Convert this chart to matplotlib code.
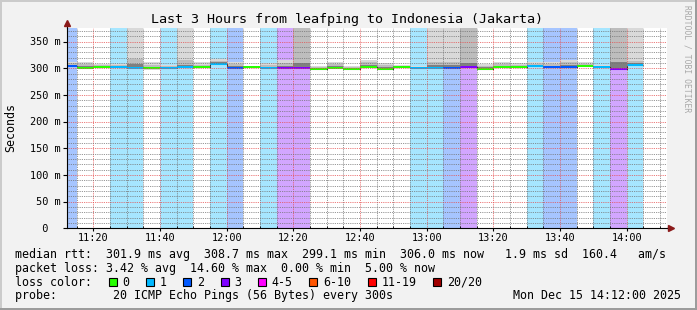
import matplotlib
matplotlib.use("Agg")
import matplotlib.pyplot as plt
import matplotlib.dates as mdates
import matplotlib.transforms as mtrans
from matplotlib.ticker import MultipleLocator
from matplotlib.patches import Rectangle
from matplotlib.colors import to_rgb
import pandas as pd

# ---------------- data ----------------
title = "Last 3 Hours from leafping to Indonesia (Jakarta)"
first_interval = "2025-12-15 11:10"
window_start = "2025-12-15 11:12"
window_end = "2025-12-15 14:12"
step = "5min"

# lost pings (of 20) per 5-minute interval
loss = [2, 0, 0, 1, 1, 0, 1, 1, 0, 1, 2, 0, 1, 3, 3, 0, 0, 0, 0, 0, 0,
        1, 1, 2, 3, 0, 0, 0, 1, 2, 2, 0, 1, 3, 1]
# median rtt (ms)
median = [304.4, 300.8, 302.5, 302.0, 300.8, 300.2, 301.5, 302.0, 302.5, 308.5,
          300.6, 302.5, 300.6, 300.2, 300.2, 299.1, 300.6, 299.3, 302.5, 299.6,
          302.0, 300.8, 300.8, 300.2, 303.0, 299.2, 302.0, 302.5, 303.5, 302.5,
          302.0, 304.0, 302.0, 299.6, 306.0]
# smoke: lowest ping, outer / second / inner upper pings (ms)
smoke_lo = [302.5, 299.5, 300.5, 300.5, 299.5, 296, 300, 300.5, 301, 306.5,
            299, 301, 299, 299, 299, 298, 299, 298, 301, 298,
            300.5, 299.5, 299.5, 299, 301.5, 298, 300.5, 301, 302, 301,
            300.5, 302.5, 300.5, 298.5, 304.5]
smoke_hi1 = [311, 311, 309, 308, 420, 311, 307, 420, 311, 317.5,
             312, 305, 309, 315, 420, 304, 311, 304, 316, 310,
             307, 305, 420, 420, 420, 309, 311, 310, 312, 311,
             316, 312, 307, 420, 420]
smoke_hi2 = [309, 308, 306, 306, 318, 306, 305, 316, 307, 313,
             308, 304, 306, 310, 420, 302, 308, 302, 311, 306,
             305, 303, 312, 312, 420, 305, 308, 307, 309, 308,
             311, 309, 305, 420, 314]
smoke_hi3 = [307, 304, 304, 304, 308, 303, 303, 307, 304, 311,
             304, 303, 303, 305, 310, 300.5, 304, 300.5, 306, 302,
             303, 302, 307, 306, 310, 302, 305, 305, 306, 305,
             306, 306, 303.5, 312, 310]

loss_labels = ["0", "1", "2", "3", "4-5", "6-10", "11-19", "20/20"]
loss_upper = [0, 1, 2, 3, 5, 10, 19, 20]
loss_colors = ["#26ff00", "#00b8ff", "#0059ff", "#7e00ff", "#ff00ff",
               "#ff5500", "#ff0000", "#a10000"]

y_max = 375
y_major = 50
y_minor = 10

stat_rtt = "median rtt:  301.9 ms avg  308.7 ms max  299.1 ms min  306.0 ms now   1.9 ms sd  160.4   am/s"
stat_loss = "packet loss: 3.42 % avg  14.60 % max  0.00 % min  5.00 % now"
loss_head = "loss color:"
probe_line = "probe:        20 ICMP Echo Pings (56 Bytes) every 300s"
stamp = "Mon Dec 15 14:12:00 2025"
side_text = "RRDTOOL / TOBI OETIKER"

# ---------------- figure ----------------
W, H = 697, 310
BG = "#f2f2f2"
MONO = "DejaVu Sans Mono"
fig = plt.figure(figsize=(W / 100, H / 100), dpi=100, facecolor=BG)

def fx(x):
    return x / W

def fy(y):
    return 1 - y / H

ax_l, ax_t, ax_w, ax_h = 66.8, 28.3, 600, 200
ax = fig.add_axes([fx(ax_l), fy(ax_t + ax_h), ax_w / W, ax_h / H])
ax.set_facecolor("white")

starts = pd.date_range(first_interval, periods=len(median), freq=step)
edges = pd.date_range(first_interval, periods=len(median) + 1, freq=step)
xs = mdates.date2num(starts.to_pydatetime())
xe = mdates.date2num(edges.to_pydatetime())
wid = xe[1] - xe[0]

def loss_color(n):
    for up, c in zip(loss_upper, loss_colors):
        if n <= up:
            return c
    return loss_colors[-1]

def tint(c, a=0.35):
    r, g, b = to_rgb(c)
    return (1 - a + a * r, 1 - a + a * g, 1 - a + a * b)

# loss background
for x0, n in zip(xs, loss):
    if n > 0:
        ax.axvspan(x0, x0 + wid, color=tint(loss_color(n)), lw=0, zorder=0.5)

# smoke
ax.bar(xs, [h - l for h, l in zip(smoke_hi1, smoke_lo)], bottom=smoke_lo,
       width=wid, align="edge", color="#d9d9d9", lw=0, zorder=1)
ax.bar(xs, [h - m for h, m in zip(smoke_hi2, median)], bottom=median,
       width=wid, align="edge", color="#bdbdbd", lw=0, zorder=1.1)
ax.bar(xs, [h - m for h, m in zip(smoke_hi3, median)], bottom=median,
       width=wid, align="edge", color="#7f7f7f", lw=0, zorder=1.2)

# median: dark line + coloured 2px band
ax.stairs(median, xe, baseline=None, color="#202020", lw=0.75, zorder=1.5)
half = y_max / ax_h  # one pixel in data units
ax.bar(xs, [2 * half] * len(median), bottom=[m - half for m in median],
       width=wid, align="edge", color=[loss_color(n) for n in loss], lw=0,
       zorder=1.6)

ax.set_xlim(mdates.date2num(pd.Timestamp(window_start).to_pydatetime()),
            mdates.date2num(pd.Timestamp(window_end).to_pydatetime()))
ax.set_ylim(0, y_max)

ax.xaxis.set_major_locator(mdates.MinuteLocator(byminute=[0, 20, 40]))
ax.xaxis.set_minor_locator(mdates.MinuteLocator(byminute=range(0, 60, 5)))
ax.yaxis.set_major_locator(MultipleLocator(y_major))
ax.yaxis.set_minor_locator(MultipleLocator(y_minor))
ax.set_axisbelow(False)
ax.grid(which="minor", color=(0.45, 0.45, 0.45, 0.35), ls=(0, (1, 1.2)), lw=0.6)
ax.grid(which="major", color=(0.9, 0.3, 0.3, 0.5), ls=(0, (1, 1.2)), lw=0.6)

for s in ("top", "right"):
    ax.spines[s].set_visible(False)
for s in ("left", "bottom"):
    ax.spines[s].set_color("black")
    ax.spines[s].set_linewidth(0.8)
    ax.spines[s].set_zorder(3)

ax.tick_params(axis="x", which="major", direction="out", length=2.2, width=0.8,
               labelbottom=False)
ax.tick_params(axis="x", which="minor", direction="in", length=1.5, width=0.6)
ax.tick_params(axis="y", which="major", direction="out", length=3.2, width=0.8,
               labelleft=False)
ax.tick_params(axis="y", which="minor", length=0)

# arrows
arrow_c = "#8b1a1a"
ax.plot([0, 0], [1, 1 + 4 / ax_h], transform=ax.transAxes, color="black",
        lw=0.8, clip_on=False, zorder=3)
ax.plot([0], [1 + 5 / ax_h], transform=ax.transAxes, marker="^", ms=4.2,
        color=arrow_c, mec=arrow_c, clip_on=False, zorder=4)
ax.plot([1, 1 + 2 / ax_w], [0, 0], transform=ax.transAxes, color="black",
        lw=0.8, clip_on=False, zorder=3)
ax.plot([1 + 4 / ax_w], [0], transform=ax.transAxes, marker=">", ms=4.2,
        color=arrow_c, mec=arrow_c, clip_on=False, zorder=4)

# y tick labels (monospace, padded like rrdtool)
ytr = mtrans.offset_copy(mtrans.blended_transform_factory(fig.transFigure, ax.transData),
                         fig=fig, x=0, y=-3.7, units="dots")
tick_fs = 7.4
for v in range(0, y_max + 1, y_major):
    lab = f"{v:>3d} m" if v else "  0"
    ax.text(fx(29.5), v, lab, transform=ytr, ha="left", va="baseline",
            family=MONO, fontsize=tick_fs, color="black", clip_on=False)

# x tick labels
xtr = mtrans.blended_transform_factory(ax.transData, fig.transFigure)
for t in ax.xaxis.get_majorticklocs():
    if ax.get_xlim()[0] <= t <= ax.get_xlim()[1]:
        ax.text(t, fy(240.7), mdates.num2date(t).strftime("%H:%M"), transform=xtr,
                ha="center", va="baseline", family=MONO, fontsize=tick_fs,
                color="black", clip_on=False)

# y label
fig.text(fx(10.5), fy(127), "Seconds", rotation=90, ha="center", va="center",
         family=MONO, fontsize=8.4, color="black")

# title
fig.text(fx(347.2), fy(23.3), title, ha="center", va="baseline", family=MONO,
         fontsize=9.6, color="black")

# side text
fig.text(fx(687.5), fy(5), side_text, rotation=270, ha="center", va="top",
         family=MONO, fontsize=5.8, color="#a8a8a8")

# legend rows
leg_fs = 8.4
lx = 15.3
fig.text(fx(lx), fy(258.3), stat_rtt, ha="left", va="baseline", family=MONO, fontsize=leg_fs)
fig.text(fx(lx), fy(272.0), stat_loss, ha="left", va="baseline", family=MONO, fontsize=leg_fs)
fig.text(fx(lx), fy(285.7), loss_head, ha="left", va="baseline", family=MONO, fontsize=leg_fs)
fig.text(fx(lx), fy(299.3), probe_line, ha="left", va="baseline", family=MONO, fontsize=leg_fs)
fig.text(fx(513.0), fy(299.3), stamp, ha="left", va="baseline", family=MONO, fontsize=leg_fs)

char_w = 7.03
bx = 108.7
for lab, col in zip(loss_labels, loss_colors):
    fig.add_artist(Rectangle((fx(bx), fy(286.0)), 8 / W, 7.7 / H, transform=fig.transFigure,
                             facecolor=col, edgecolor="black", lw=0.8))
    fig.text(fx(bx + 14.0), fy(285.7), lab, ha="left", va="baseline", family=MONO,
             fontsize=leg_fs)
    bx += 37.3 + (len(lab) - 1) * char_w

# canvas shading border
fig.add_artist(Rectangle((0, fy(2)), 1, 2 / H, transform=fig.transFigure, color="#cbcbcb", lw=0))
fig.add_artist(Rectangle((0, 0), 2 / W, 1, transform=fig.transFigure, color="#cbcbcb", lw=0))
fig.add_artist(Rectangle((0, 0), 1, 2.5 / H, transform=fig.transFigure, color="#9c9c9c", lw=0))
fig.add_artist(Rectangle((fx(695), 0), 2 / W, 1, transform=fig.transFigure, color="#9c9c9c", lw=0))

fig.savefig("out.png", dpi=100, facecolor=BG)
